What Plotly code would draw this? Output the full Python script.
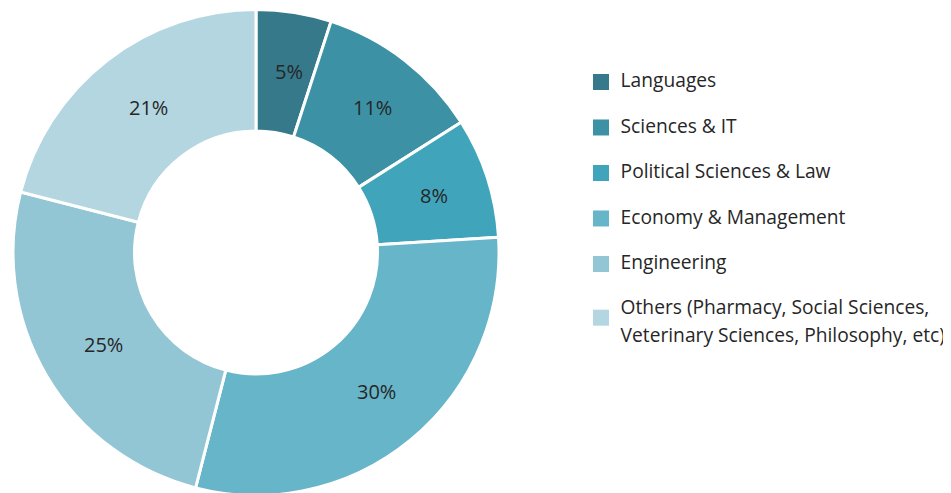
import math
import plotly.graph_objects as go

# ---- data ----
categories = [
    "Languages",
    "Sciences & IT",
    "Political Sciences & Law",
    "Economy & Management",
    "Engineering",
    "Others (Pharmacy, Social Sciences,<br>Veterinary Sciences, Philosophy, etc)",
]
shares = [5, 11, 8, 30, 25, 21]
colors = ["#36798A", "#3D91A5", "#40A5BB", "#67B5C9", "#93C6D5", "#B3D6E0"]

FONT = "Open Sans"
TEXT_COLOR = "#262626"
PIE_DOMAIN = dict(x=[0.00526, 0.5163], y=[0.01116, 0.997])
HOLE = 0.5

fig = go.Figure()

fig.add_trace(go.Pie(
    labels=categories,
    values=shares,
    hole=HOLE,
    sort=False,
    direction="clockwise",
    rotation=0,
    marker=dict(colors=colors, line=dict(color="white", width=3)),
    textinfo="none",
    domain=PIE_DOMAIN,
    showlegend=False,
    hoverinfo="label+percent",
))

# percentage labels at the middle of each ring segment, on a square overlay axis
# (x2/y2 span exactly the pie's domain, unit = pie radius)
total = sum(shares)
label_r = (1 + HOLE) / 2
acc = 0
for s in shares:
    ang = math.radians((acc + s / 2) / total * 360)  # clockwise from 12 o'clock
    acc += s
    fig.add_annotation(
        x=label_r * math.sin(ang), y=label_r * math.cos(ang),
        xref="x2", yref="y2", text=f"{s}%", showarrow=False,
        xanchor="center", yanchor="middle", xshift=4.5, yshift=1,
        font=dict(family=FONT, size=20, color=TEXT_COLOR),
    )

# legend drawn as a scatter on a hidden axis (rows from category order)
marker_rows = [i + 0.18 * c.count("<br>") for i, c in enumerate(categories)]
text_rows = [i + 0.28 * c.count("<br>") for i, c in enumerate(categories)]
MARKER_X = 22.4
TEXT_X = 42
fig.add_trace(go.Scatter(
    x=[MARKER_X] * len(categories), y=marker_rows, mode="markers",
    marker=dict(symbol="square", size=16, color=colors, line=dict(width=0)),
    xaxis="x", yaxis="y", showlegend=False, hoverinfo="skip", cliponaxis=False,
))
fig.add_trace(go.Scatter(
    x=[TEXT_X] * len(categories), y=text_rows, mode="text",
    text=[f'<span style="font-size:19.2px">{c}</span>' for c in categories],
    textposition="middle right",
    textfont=dict(family=FONT, size=21.5, color=TEXT_COLOR),
    xaxis="x", yaxis="y", showlegend=False, hoverinfo="skip", cliponaxis=False,
))

fig.update_layout(
    width=951, height=493,
    margin=dict(l=0, r=0, t=0, b=0),
    paper_bgcolor="white", plot_bgcolor="rgba(0,0,0,0)",
    font=dict(family=FONT, color=TEXT_COLOR),
    xaxis=dict(domain=[0.6, 1.0], range=[0, 380.4], visible=False, fixedrange=True),
    yaxis=dict(domain=[0, 1], range=[9.209, -1.626], visible=False, fixedrange=True),
    xaxis2=dict(domain=PIE_DOMAIN["x"], range=[-1, 1], visible=False, fixedrange=True),
    yaxis2=dict(domain=PIE_DOMAIN["y"], range=[-1, 1], visible=False, fixedrange=True,
                anchor="x2"),
)

fig.write_html("out.html")
